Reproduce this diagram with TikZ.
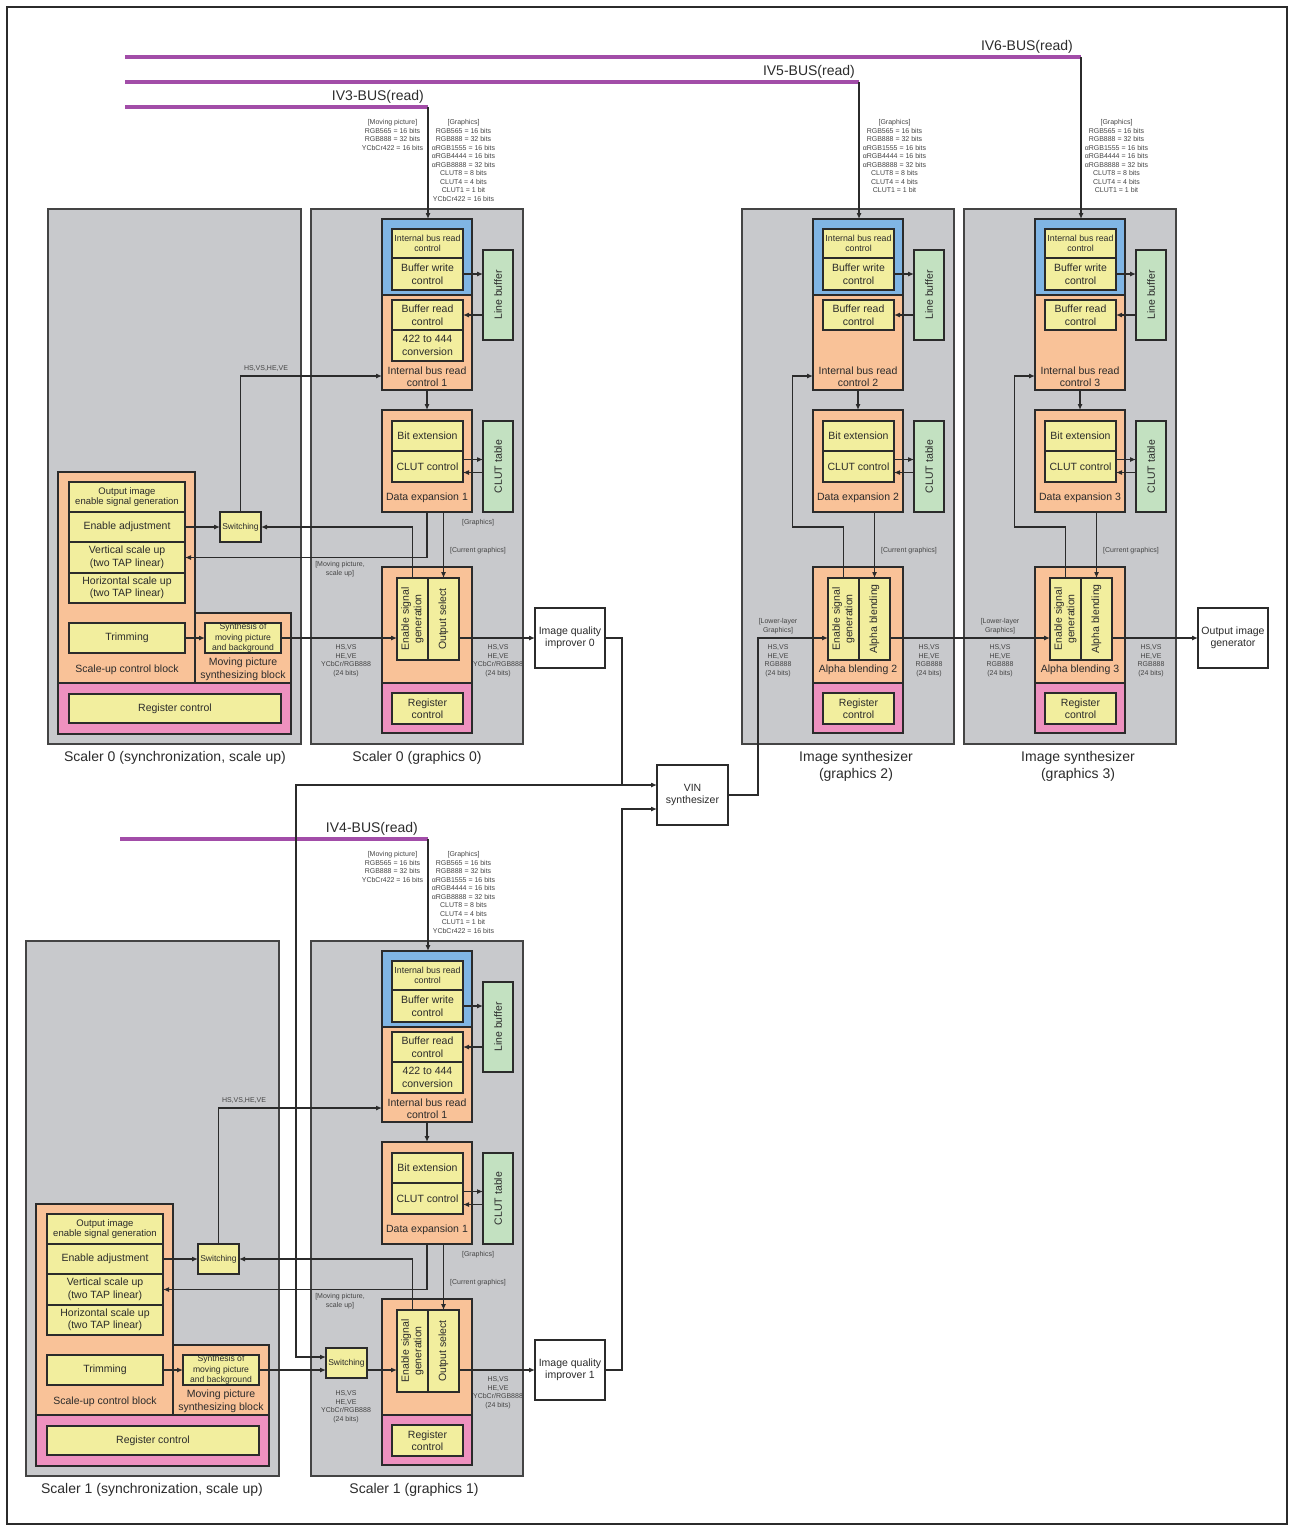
\documentclass[tikz,border=0pt]{standalone}
\usepackage{fontspec}
\setmainfont{Liberation Sans}
\usepackage{xcolor}
\definecolor{panelgray}{HTML}{C8C9CC}
\definecolor{busblue}{HTML}{80B5E4}
\definecolor{blockorange}{HTML}{F9C298}
\definecolor{regpink}{HTML}{EE91BF}
\definecolor{cellyellow}{HTML}{F2EE9E}
\definecolor{memgreen}{HTML}{C3E1C1}
\definecolor{buspurple}{HTML}{A24DA8}
\definecolor{inkdark}{HTML}{2B2B2B}
\definecolor{inkgray}{HTML}{444444}
\usetikzlibrary{positioning,arrows.meta,calc}

\newcommand{\fscap}{\fontsize{14}{17}\selectfont}
\newcommand{\fsmid}{\fontsize{10.5}{12.5}\selectfont}
\newcommand{\fsmed}{\fontsize{9.5}{10}\selectfont}
\newcommand{\fssmall}{\fontsize{8.8}{10.5}\selectfont}
\newcommand{\fsmini}{\fontsize{8.6}{10.6}\selectfont}
\newcommand{\fssw}{\fontsize{8.5}{10}\selectfont}
\newcommand{\fstiny}{\fontsize{7}{8.5}\selectfont}
\newcommand{\twoline}[2]{\begin{tabular}{@{}c@{}}#1\\#2\end{tabular}}
\newcommand{\gfxlist}{[Graphics]\\RGB565 = 16 bits\\RGB888 = 32 bits\\αRGB1555 = 16 bits\\αRGB4444 = 16 bits\\αRGB8888 = 32 bits\\CLUT8 = 8 bits\\CLUT4 = 4 bits\\CLUT1 = 1 bit}
\newcommand{\movlist}{[Moving picture]\\RGB565 = 16 bits\\RGB888 = 32 bits\\YCbCr422 = 16 bits}

\begin{document}
\begin{tikzpicture}[x=1pt, y=-1pt,
  every node/.style={text=inkdark},
  blk/.style={draw=inkdark, line width=1.1pt, inner sep=0pt, outer sep=0pt,
    anchor=north west, align=center},
  sz/.style n args={2}{minimum width=#1pt, minimum height=#2pt},
  panel/.style={blk, fill=panelgray, draw=inkgray, line width=1.4pt},
  blueblk/.style={blk, fill=busblue},
  orangeblk/.style={blk, fill=blockorange},
  pinkblk/.style={blk, fill=regpink},
  cell/.style={blk, fill=cellyellow, font=\fsmid},
  membox/.style={blk, fill=memgreen, font=\fsmid},
  plainbox/.style={blk, fill=white, font=\fsmid},
  blocklabel/.style={font=\fsmid, align=center, inner sep=0pt, yshift=-1.5pt},
  captext/.style={font=\fscap, align=center, inner sep=0pt, yshift=-2pt},
  buslabel/.style={font=\fscap, inner sep=0pt, anchor=base east},
  tagtext/.style={font=\fstiny, align=center, text=inkgray, inner sep=0pt},
  wire/.style={draw=inkdark, line width=1.1pt},
  conn/.style={wire, -{Latex[length=6pt, width=5pt]}},
  bus/.style={draw=buspurple, line width=3.5pt},
]
\useasboundingbox (0,0) rectangle (1289,1526);
\draw[inkdark, line width=1.5pt] (7,7) rectangle (1287,1524);

% Read buses
\foreach \b/\y/\xe/\lx/\ly in {6/57/1081/1073/50, 5/82/859/855/75, 3/107/428/424/100} {
  \coordinate (bw\b) at (125,\y);
  \coordinate (b\b) at (\xe,\y);
  \draw[bus] (bw\b) -- (b\b);
  \node[buslabel] (iv\b) at (\lx,\ly) {IV\b-BUS(read)};
}
\coordinate (bw4) at (120,839);
\coordinate (b4) at (428,839);
\draw[bus] (bw4) -- (b4);
\node[buslabel] (iv4) at (418,832) {IV4-BUS(read)};

% Formats carried on the buses
\node[tagtext, anchor=north] (mvl0) at (392.5,119.5) {\movlist};
\node[tagtext, anchor=north] (gfl0) at (463.5,119.5) {\gfxlist\\YCbCr422 = 16 bits};
\node[tagtext, anchor=north] (mvl1) at (392.5,851.5) {\movlist};
\node[tagtext, anchor=north] (gfl1) at (463.5,851.5) {\gfxlist\\YCbCr422 = 16 bits};
\node[tagtext, anchor=north] (gfl2) at (894.5,119.5) {\gfxlist};
\node[tagtext, anchor=north] (gfl3) at (1116.5,119.5) {\gfxlist};

% Scaler (synchronization, scale up) panels
\foreach \g/\dx/\dy in {0/0/0, 1/-22/732} {
  \node[panel, sz={253}{535}] (spn\g) at ({48+\dx},{209+\dy}) {};
  \node[orangeblk, sz={137}{211}] (suc\g) at ({58+\dx},{472+\dy}) {};
  \node[orangeblk, sz={96}{70}] (mps\g) at ({195+\dx},{613+\dy}) {};
  \node[pinkblk, sz={233}{51}] (spk\g) at ({58+\dx},{683+\dy}) {};
  \node[cell, sz={116}{30}, font=\fsmed] (oie\g) at ({69+\dx},{482+\dy}) {Output image\\enable signal generation};
  \node[cell, sz={116}{30}] (ena\g) at ({69+\dx},{512+\dy}) {Enable adjustment};
  \node[cell, sz={116}{31}] (vsc\g) at ({69+\dx},{542+\dy}) {Vertical scale up\\(two TAP linear)};
  \node[cell, sz={116}{30}] (hsc\g) at ({69+\dx},{573+\dy}) {Horizontal scale up\\(two TAP linear)};
  \node[cell, sz={116}{30}] (trm\g) at ({69+\dx},{623+\dy}) {Trimming};
  \node[cell, sz={76}{30}, font=\fsmini] (syn\g) at ({205+\dx},{623+\dy}) {Synthesis of\\moving picture\\and background};
  \node[cell, sz={212}{29}] (src\g) at ({69+\dx},{694+\dy}) {Register control};
  \node[cell, sz={41}{30}, font=\fssw] (swi\g) at ({220+\dx},{512+\dy}) {Switching};
  \node[blocklabel] (sul\g) at ({127+\dx},{668+\dy}) {Scale-up control block};
  \node[blocklabel] (mpl\g) at ({243+\dx},{668+\dy}) {Moving picture\\synthesizing block};
}

% Graphics panels
\foreach \g/\dx/\dy/\busc/\num in {0/0/0/b3/1, 1/0/732/b4/1, 2/431/0/b5/2, 3/653/0/b6/3} {
  \node[panel, sz={212}{535}] (gpn\g) at ({311+\dx},{209+\dy}) {};
  \node[blueblk, sz={90}{76}] (blu\g) at ({382+\dx},{219+\dy}) {};
  \node[orangeblk, sz={90}{95}] (ibo\g) at ({382+\dx},{295+\dy}) {};
  \node[orangeblk, sz={90}{102}] (dex\g) at ({382+\dx},{410+\dy}) {};
  \node[orangeblk, sz={90}{116}] (out\g) at ({382+\dx},{567+\dy}) {};
  \node[pinkblk, sz={90}{50}] (gpk\g) at ({382+\dx},{683+\dy}) {};
  \node[cell, sz={71}{29}, font=\fssmall] (ibr\g) at ({392+\dx},{229+\dy}) {Internal bus read\\control};
  \node[cell, sz={71}{32}] (bwc\g) at ({392+\dx},{258+\dy}) {Buffer write\\control};
  \node[cell, sz={71}{30}] (brc\g) at ({392+\dx},{300+\dy}) {Buffer read\\control};
  \node[blocklabel] (ibl\g) at ({427+\dx},{375+\dy}) {Internal bus read\\control \num};
  \node[membox, sz={30}{90}] (lbf\g) at ({483+\dx},{250+\dy}) {\rotatebox{90}{Line buffer}};
  \node[cell, sz={71}{30}] (bex\g) at ({392+\dx},{421+\dy}) {Bit extension};
  \node[cell, sz={71}{31}] (clc\g) at ({392+\dx},{451+\dy}) {CLUT control};
  \node[blocklabel] (dxl\g) at ({427+\dx},{496+\dy}) {Data expansion \num};
  \node[membox, sz={30}{91}] (clt\g) at ({483+\dx},{421+\dy}) {\rotatebox{90}{CLUT table}};
  \node[cell, sz={31}{82}] (esg\g) at ({397+\dx},{578+\dy}) {\rotatebox{90}{\twoline{Enable signal}{generation}}};
  \node[cell, sz={71}{31}] (grc\g) at ({392+\dx},{693+\dy}) {Register\\control};
  % links inside the panel
  \draw[conn] (\busc) -- (\busc |- blu\g.north);
  \draw[conn] (bwc\g.east) -- (bwc\g.east -| lbf\g.west);
  \draw[conn] (brc\g.east -| lbf\g.west) -- (brc\g.east);
  \draw[conn] (ibo\g.south) -- (dex\g.north);
  \draw[conn] ($(clc\g.east)+(0,-7)$) -- ($(clc\g.east)+(20,-7)$);
  \draw[conn] ($(clc\g.east)+(20,6)$) -- ($(clc\g.east)+(0,6)$);
}

% Scaler graphics 0 and 1
\foreach \g/\dy in {0/0, 1/732} {
  \node[cell, sz={71}{31}] (cnv\g) at (392,{330+\dy}) {422 to 444\\conversion};
  \node[cell, sz={31}{82}] (osl\g) at (428,{578+\dy}) {\rotatebox{90}{Output select}};
  \node[plainbox, sz={70}{60}] (iqi\g) at (535,{608+\dy}) {Image quality\\improver \g};
}
\node[cell, sz={41}{30}, font=\fssw] (swg1) at (326,1348) {Switching};

% Image synthesizers 2 and 3
\foreach \g/\dx in {2/431, 3/653} {
  \node[cell, sz={31}{82}] (alp\g) at ({428+\dx},578) {\rotatebox{90}{Alpha blending}};
  \node[blocklabel] (abl\g) at ({427+\dx},668) {Alpha blending \g};
  \node[tagtext] (cgt\g) at ({478+\dx},551) {[Current graphics]};
  \node[tagtext] (llt\g) at ({347+\dx},626) {[Lower-layer\\Graphics]};
  \node[tagtext] (sgl\g) at ({347+\dx},661) {HS,VS\\HE,VE\\RGB888\\(24 bits)};
  \node[tagtext] (sgr\g) at ({498+\dx},661) {HS,VS\\HE,VE\\RGB888\\(24 bits)};
  \draw[conn] (dex\g.south -| alp\g.north) -- (alp\g.north);
  \draw[conn] (esg\g.north) -- ++(0,-51) -- ++(-51,0) |- ($(ibo\g.south west)+(0,-14)$);
}

% Side blocks
\node[plainbox, sz={71}{60}] (vin) at (657,765) {VIN\\synthesizer};
\node[plainbox, sz={70}{60}] (oig) at (1198,608) {Output image\\generator};

% Links scaler to graphics
\foreach \g/\dx/\dy/\ly in {0/0/0/661, 1/-22/732/1407} {
  \draw[conn] (ena\g.east) -- (swi\g.west);
  \draw[conn] (trm\g.east) -- (syn\g.west);
  \draw[conn] (swi\g.north) |- ($(ibo\g.south west)+(0,-14)$);
  \draw[conn] (esg\g.north) |- (swi\g.east);
  \draw[conn] (dex\g.south) |- (vsc\g.east);
  \draw[conn] (dex\g.south -| osl\g.north) -- (osl\g.north);
  \draw[conn] (osl\g.east |- iqi\g.west) -- (iqi\g.west);
  \node[tagtext] (hvt\g) at ({266+\dx},{368+\dy}) {HS,VS,HE,VE};
  \node[tagtext] (mvt\g) at (340,{569+\dy}) {[Moving picture,\\scale up]};
  \node[tagtext] (gft\g) at (478,{523+\dy}) {[Graphics]};
  \node[tagtext] (cgt\g) at (478,{551+\dy}) {[Current graphics]};
  \node[tagtext] (sgl\g) at (346,\ly) {HS,VS\\HE,VE\\YCbCr/RGB888\\(24 bits)};
  \node[tagtext] (sgr\g) at (498,{661+\dy}) {HS,VS\\HE,VE\\YCbCr/RGB888\\(24 bits)};
}
\draw[conn] (syn0.east) -- (syn0.east -| esg0.west);
\draw[conn] (syn1.east) -- (syn1.east -| swg1.west);
\draw[conn] (swg1.east |- syn1.east) -- (syn1.east -| esg1.west);

% VIN synthesizer and output
\coordinate (vinjoin) at (622,785);
\coordinate (vinlow) at (622,809);
\coordinate (feedturn) at (296,785);
\draw[conn] (iqi0.east) -| (vinjoin) -- (vinjoin -| vin.west);
\draw[conn] (iqi1.east) -| (vinlow) -- (vinlow -| vin.west);
\draw[conn] (vinjoin) -- (feedturn) |- ($(swg1.west)+(0,-6)$);
\draw[conn] (vin.east) -- ++(30,0) |- (esg2.west |- oig.west);
\draw[conn] (alp2.east |- oig.west) -- (esg3.west |- oig.west);
\draw[conn] (alp3.east |- oig.west) -- (oig.west);

% Captions
\node[captext] (cap0s) at (175,756) {Scaler 0 (synchronization, scale up)};
\node[captext] (cap0g) at (417,756) {Scaler 0 (graphics 0)};
\node[captext] (cap2) at (856,764) {Image synthesizer\\(graphics 2)};
\node[captext] (cap3) at (1078,764) {Image synthesizer\\(graphics 3)};
\node[captext] (cap1s) at (152,1488) {Scaler 1 (synchronization, scale up)};
\node[captext] (cap1g) at (414,1488) {Scaler 1 (graphics 1)};
\end{tikzpicture}
\end{document}
